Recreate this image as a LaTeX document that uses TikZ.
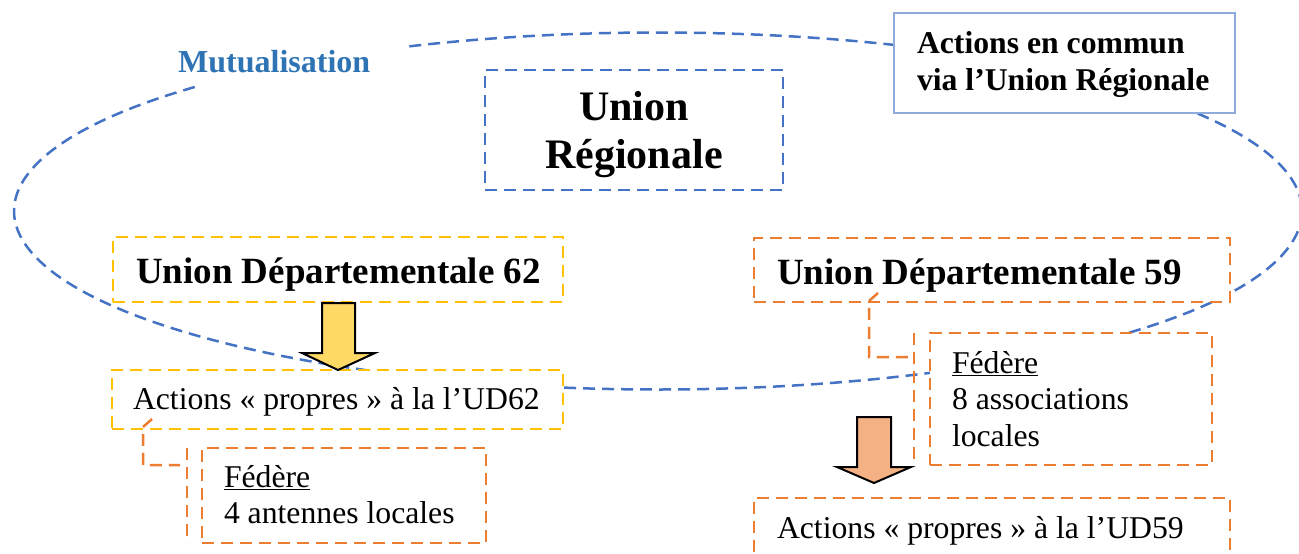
\documentclass[tikz,border=0pt]{standalone}
\usepackage{fontspec}
\setmainfont{Liberation Serif}
\usetikzlibrary{calc}
\definecolor{ellblue}{HTML}{4472C4}
\definecolor{ltblue}{HTML}{8FAADC}
\definecolor{goldc}{HTML}{FFC000}
\definecolor{orng}{HTML}{ED7D31}
\definecolor{yelfill}{HTML}{FFD966}
\definecolor{orfill}{HTML}{F4B183}
\definecolor{mutblue}{HTML}{2E74B5}
% width, height, left pad, first baseline, font setup, text
\newcommand{\tb}[6]{\parbox[t][#2][t]{#1}{#5\raggedright\leftskip=#3\relax\lineskiplimit=-200pt\relax\lineskip=0pt\relax\rule{0pt}{#4}#6\par}}
\newcommand{\tbc}[5]{\parbox[t][#2][t]{#1}{#4\centering\lineskiplimit=-200pt\relax\lineskip=0pt\relax\rule{0pt}{#3}#5\par}}
\newcommand{\fbody}{\fontsize{31.7pt}{36.5pt}\selectfont}
\newcommand{\fbold}{\fontsize{31.7pt}{37pt}\selectfont\bfseries}
\newcommand{\fud}{\fontsize{37pt}{42.5pt}\selectfont\bfseries}
\newcommand{\fur}{\fontsize{42pt}{48pt}\selectfont\bfseries}
\tikzset{
  dashbox/.style={line width=2.5pt, dash pattern=on 12pt off 7pt, fill=white, inner sep=0pt, outer sep=0pt, anchor=north west},
  goldbox/.style={dashbox, draw=goldc},
  orbox/.style={dashbox, draw=orng},
  blbox/.style={dashbox, draw=ellblue},
  solidbox/.style={draw=ltblue, line width=2.5pt, fill=white, inner sep=0pt, outer sep=0pt, anchor=north west},
  ell/.style={draw=ellblue, line width=2.5pt, dash pattern=on 12pt off 7pt},
  callout/.style={draw=orng, line width=2.5pt, dash pattern=on 12pt off 7pt},
  bigarrow/.style={draw=black, line width=2pt, line join=miter},
}
\begin{document}
\begin{tikzpicture}[x=1pt,y=1pt]
\useasboundingbox (0,0) rectangle (1299,-554);
% mutualisation ellipse
\coordinate (ec) at (658,-211);
\draw[ell] (ec) ++(136:644 and 178.5) arc[start angle=136, end angle=473, x radius=644pt, y radius=178.5pt];
\node[anchor=base west, inner sep=0pt, text=mutblue, font=\fontsize{32pt}{37pt}\selectfont\bfseries] (mut) at (178,-72) {Mutualisation};
% top boxes
\node[blbox] (ur) at (485,-70) {\tbc{298pt}{120pt}{50pt}{\fur}{Union\\Régionale}};
\node[solidbox] (com) at (894,-13) {\tb{341pt}{100pt}{23pt}{40pt}{\fbold}{Actions en commun\\via l’Union Régionale}};
% UD62 side
\node[goldbox] (ud62) at (113,-237) {\tb{450pt}{65pt}{23pt}{46pt}{\fud}{Union Départementale 62}};
\node[goldbox] (ac62) at (112,-370) {\tb{451pt}{59pt}{21pt}{39pt}{\fbody}{Actions «~propres~» à la l’UD62}};
\node[orbox] (fed62) at (202,-448) {\tb{284pt}{95pt}{22pt}{39pt}{\fbody}{\underline{Fédère}\\4 antennes locales}};
% UD59 side
\node[orbox] (ud59) at (754,-238) {\tb{476pt}{64pt}{23pt}{46pt}{\fud}{Union Départementale 59}};
\node[orbox] (fed59) at (930,-333) {\tb{282pt}{132pt}{22pt}{40pt}{\fbody}{\underline{Fédère}\\8 associations\\locales}};
\node[orbox] (ac59) at (754,-498) {\tb{476pt}{70pt}{23pt}{40pt}{\fbody}{Actions «~propres~» à la l’UD59}};
% block arrows
\draw[bigarrow, fill=yelfill] (322,-303) -- (355,-303) -- (355,-353) -- (375,-353) -- (338,-370) -- (302,-353) -- (322,-353) -- cycle;
\draw[bigarrow, fill=orfill] (857,-417) -- (891,-417) -- (891,-467) -- (911,-467) -- (874,-483) -- (837,-467) -- (857,-467) -- cycle;
% callouts
\coordinate (bar62t) at ($(fed62.north west)+(-15,0)$);
\coordinate (bar62b) at ($(fed62.south west)+(-15,0)$);
\draw[callout] (bar62t) -- (bar62b);
\draw[callout] ($(ac62.south west)+(40,10)$) -- ($(ac62.south west)+(31,2)$) -- (143,-465) -- ($(bar62t)+(-7,-17)$);
\coordinate (bar59t) at ($(fed59.north west)+(-16,0)$);
\coordinate (bar59b) at ($(fed59.south west)+(-16,0)$);
\draw[callout] (bar59t) -- (bar59b);
\draw[callout] ($(ud59.south west)+(124,9)$) -- ($(ud59.south west)+(115,1)$) -- (869,-357) -- ($(bar59t)+(-6,-24)$);
\end{tikzpicture}
\end{document}
